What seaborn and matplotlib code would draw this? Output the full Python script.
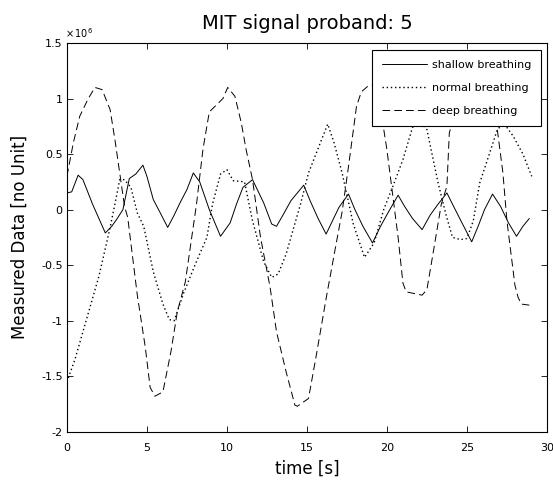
import numpy as np
import matplotlib
matplotlib.use("Agg")
import matplotlib.pyplot as plt
import pandas as pd
import seaborn as sns

sns.set_style("ticks")
####figure settings####
plt.rcParams["font.family"] = "DejaVu Sans"
plt.rcParams["axes.unicode_minus"] = False
plt.rcParams["axes.linewidth"] = 0.8
plt.rcParams["lines.scale_dashes"] = False
plt.rcParams["xtick.direction"] = "in"
plt.rcParams["ytick.direction"] = "in"
plt.rcParams["text.color"] = "k"
plt.rcParams["axes.labelcolor"] = "k"
plt.rcParams["axes.edgecolor"] = "k"
plt.rcParams["xtick.color"] = "k"
plt.rcParams["ytick.color"] = "k"
#######################

# values in units of 1e6
shallow_t = [0, 0.3, 0.7, 1.0, 1.6, 2.4, 2.8, 3.1, 3.5, 3.9, 4.3, 4.75, 5.0, 5.4, 5.8,
             6.3, 6.7, 7.1, 7.5, 7.9, 8.3, 8.9, 9.6, 10.2, 10.6, 11.0, 11.6, 12.3, 12.8, 13.1,
             13.5, 14.0, 14.8, 15.2, 15.7, 16.2, 16.6, 17.0, 17.6, 18.0, 18.5, 19.1, 19.6, 20.1, 20.7,
             21.1, 21.6, 22.2, 22.7, 23.2, 23.75, 24.2, 24.8, 25.3, 25.7, 26.1, 26.6, 27.1, 27.6, 28.1,
             28.5, 28.9]
shallow_v = [0.15, 0.16, 0.31, 0.27, 0.05, -0.21, -0.15, -0.09, 0.0, 0.28, 0.32, 0.40, 0.3, 0.09, -0.02,
             -0.16, -0.05, 0.07, 0.18, 0.33, 0.25, 0.0, -0.24, -0.12, 0.05, 0.2, 0.27, 0.06, -0.13, -0.15,
             -0.05, 0.08, 0.22, 0.08, -0.08, -0.22, -0.1, 0.02, 0.14, 0.0, -0.15, -0.3, -0.15, -0.02, 0.13,
             0.03, -0.08, -0.18, -0.05, 0.05, 0.15, 0.02, -0.15, -0.29, -0.15, 0.0, 0.14, 0.03, -0.12, -0.24,
             -0.15, -0.08]

normal_t = [0, 0.5, 1.0, 1.5, 2.0, 2.67, 3.0, 3.3, 3.6, 4.0, 4.4, 4.8, 5.4, 6.0, 6.4,
            6.7, 7.3, 8.0, 8.75, 9.1, 9.6, 10.0, 10.4, 11.1, 11.6, 12.3, 12.8, 13.2, 13.7, 14.6,
            15.1, 15.7, 16.3, 16.7, 17.2, 17.9, 18.6, 19.2, 19.8, 20.4, 21.0, 21.6, 22.0, 22.5, 23.2,
            23.7, 24.1, 24.6, 25.0, 25.4, 25.8, 26.4, 26.9, 27.3, 27.9, 28.5, 29.05]
normal_v = [-1.55, -1.35, -1.1, -0.85, -0.6, -0.18, 0.05, 0.27, 0.27, 0.2, -0.03, -0.15, -0.56, -0.85, -0.99,
            -1.0, -0.75, -0.5, -0.25, 0.05, 0.32, 0.36, 0.26, 0.25, -0.1, -0.47, -0.61, -0.58, -0.4, 0.05,
            0.33, 0.55, 0.77, 0.6, 0.33, -0.13, -0.43, -0.3, 0.0, 0.22, 0.45, 0.74, 0.8, 0.72, 0.24,
            -0.05, -0.25, -0.27, -0.26, -0.1, 0.24, 0.5, 0.72, 0.78, 0.66, 0.5, 0.3]

deep_t = [0, 0.4, 0.8, 1.3, 1.75, 2.2, 2.7, 3.0, 3.3, 3.6, 3.8, 4.4, 4.9, 5.2, 5.5,
          6.0, 6.5, 6.9, 7.4, 7.8, 8.1, 8.5, 8.9, 9.4, 9.75, 10.05, 10.5, 10.9, 11.2, 11.6,
          12.1, 12.7, 13.1, 13.7, 14.25, 14.4, 15.1, 15.6, 16.2, 16.9, 17.2, 17.6, 18.1, 18.4, 18.8,
          19.1, 19.4, 19.75, 20.0, 20.7, 21.0, 21.2, 22.2, 22.5, 22.9, 23.4, 23.75, 23.9, 24.5, 25.4,
          26.3, 26.9, 27.25, 27.5, 28.0, 28.2, 28.4, 28.9]
deep_v = [0.3, 0.6, 0.84, 0.99, 1.1, 1.08, 0.9, 0.63, 0.33, 0.03, -0.07, -0.77, -1.24, -1.6, -1.68,
          -1.64, -1.28, -0.92, -0.65, -0.25, 0.05, 0.54, 0.88, 0.95, 1.0, 1.1, 1.02, 0.78, 0.54, 0.27,
          -0.25, -0.7, -1.1, -1.46, -1.76, -1.77, -1.7, -1.3, -0.8, -0.25, -0.02, 0.39, 0.93, 1.06, 1.11,
          1.12, 1.05, 0.77, 0.54, -0.25, -0.66, -0.74, -0.77, -0.72, -0.38, 0.05, 0.21, 0.69, 1.0, 1.08,
          1.0, 0.72, 0.33, -0.1, -0.68, -0.79, -0.85, -0.86]

labels = ["shallow breathing", "normal breathing", "deep breathing"]
styles = ["-", (0, (1, 2)), (0, (5.5, 3))]
widths = [0.7, 1.0, 0.7]
series = [(shallow_t, shallow_v), (normal_t, normal_v), (deep_t, deep_v)]

fig = plt.figure(figsize=(5.53, 4.83), dpi=100)
ax = fig.add_axes([0.121, 0.106, 0.868, 0.805])

for (t, v), lab, ls, lw in zip(series, labels, styles, widths):
    sns.lineplot(x=np.array(t), y=np.array(v) * 1e6, color="k", linewidth=lw,
                 linestyle=ls, label=lab, ax=ax)

ax.set_xlim(0, 30)
ax.set_ylim(-2e6, 1.5e6)
ax.set_xticks(np.arange(0, 31, 5))
ax.set_yticks(np.arange(-2e6, 1.6e6, 0.5e6))
ax.yaxis.set_major_formatter(plt.FuncFormatter(lambda v, p: f"{v/1e6:g}"))
ax.tick_params(top=True, right=True, length=4, width=0.6, labelsize=8)
ax.tick_params(axis="x", pad=8)
ax.tick_params(axis="y", pad=3)

ax.set_xlabel("time [s]", fontsize=12, labelpad=5)
ax.set_ylabel("Measured Data [no Unit]", fontsize=12, labelpad=9)
ax.set_title("MIT signal proband: 5", fontsize=14, pad=10)
fig.text(65 / 553, 1 - 33 / 483, r"$\times\,10^{6}$", fontsize=7, ha="left", va="center")

leg = ax.legend(loc="upper right", bbox_to_anchor=(0.9875, 0.982), borderaxespad=0,
                fontsize=8, handlelength=4, handletextpad=0.45, labelspacing=1.15,
                borderpad=0.9, fancybox=False, framealpha=1, edgecolor="k")
leg.get_frame().set_linewidth(0.8)

plt.savefig("out.png", dpi=100)
